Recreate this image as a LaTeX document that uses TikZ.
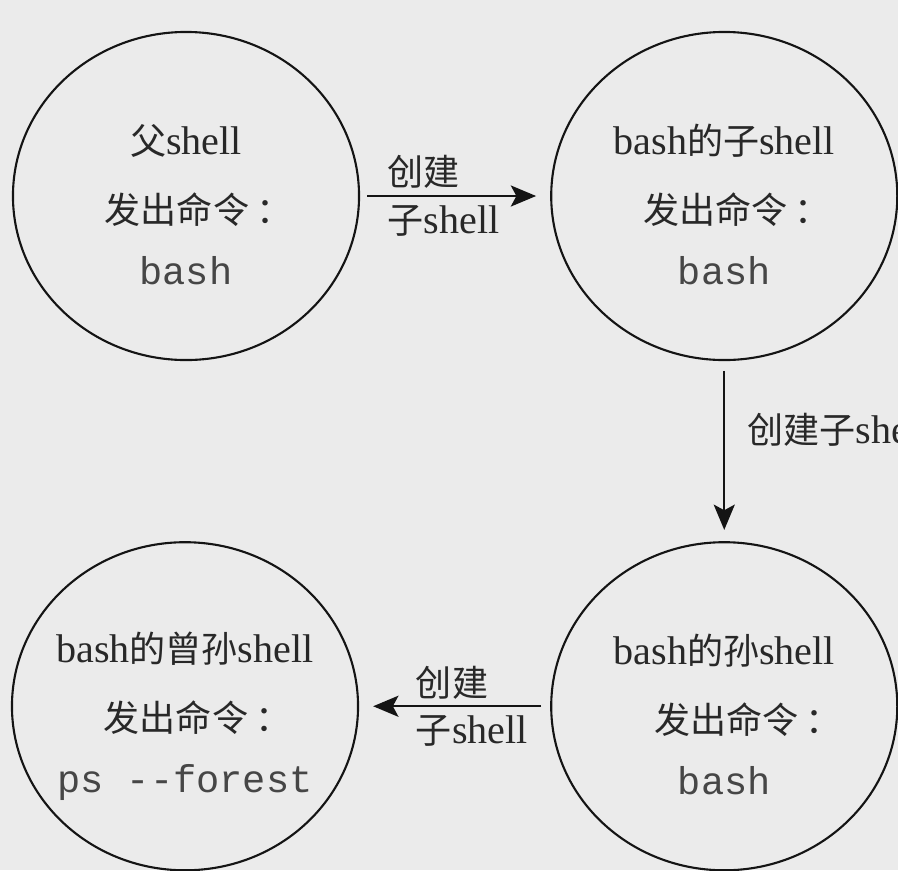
\documentclass[tikz,border=0pt]{standalone}
\usepackage{fontspec}
\setmainfont{Liberation Serif}
\setmonofont{Liberation Mono}[Scale=0.965]
\newfontfamily\cjk{Noto Sans CJK SC}[Scale=0.9]
\usetikzlibrary{shapes.geometric, arrows.meta, positioning}
\definecolor{shbg}{RGB}{235,235,235}
\definecolor{shline}{RGB}{20,20,20}
\definecolor{shtext}{RGB}{40,40,40}
\definecolor{shmono}{RGB}{70,70,70}
\newcommand{\fachu}{{\cjk 发出命令\kern.2em：\kern-.7em}}

\begin{document}
\begin{tikzpicture}[x=0.025cm, y=-0.025cm,
  shellring/.style={ellipse, draw=shline, line width=1.5pt, minimum width=8.65cm, minimum height=8.2cm, inner sep=0pt},
  shelltext/.style={align=center, inner sep=0pt, text=shtext, font=\fontsize{28.5}{43.4}\selectfont},
  shelllabel/.style={align=left, inner sep=0pt, text=shtext, font=\fontsize{28.5}{34}\selectfont},
  arr/.style={-{Stealth[length=18pt, width=15pt, inset=4pt]}, draw=shline, line width=1.5pt}
]
\useasboundingbox[fill=shbg] (0,0) rectangle (898,870);
\clip (0,0) rectangle (898,870);

\node[shellring] (parent) at (186,196) {};
\node[shellring, right=4.75cm of parent] (sub) {};
\node[shellring, below=4.5cm of sub] (grand) {};
\node[shellring, left=4.775cm of grand] (great) {};

\node[shelltext] (parenttxt) at ([yshift=-6pt]parent.center) {{\cjk 父}shell\\[6pt]\fachu\\\textcolor{shmono}{\texttt{bash}}};
\node[shelltext] (subtxt) at ([yshift=-6pt]sub.center) {bash{\cjk 的子}shell\\[6pt]\fachu\\\textcolor{shmono}{\texttt{bash}}};
\node[shelltext] (grandtxt) at ([yshift=-6pt]grand.center) {bash{\cjk 的孙}shell\\[6pt]\hspace*{16pt}\fachu\\\textcolor{shmono}{\texttt{bash}}};
\node[shelltext] (greattxt) at ([yshift=-7pt]great.center) {bash{\cjk 的曾孙}shell\\[6pt]\fachu\\\textcolor{shmono}{\texttt{ps -{}-forest}}};

\draw[arr, shorten <=5pt, shorten >=10pt] (parent) -- node[shelllabel, pos=0.44] (lbltop) {{\cjk 创建}\\{\cjk 子}shell} (sub);
\draw[arr, shorten <=7pt, shorten >=8pt] (sub) -- node[shelllabel, pos=0.38, right=0.55cm] (lblright) {{\cjk 创建子}shell} (grand);
\draw[arr, shorten <=6.5pt, shorten >=10pt] (grand) -- node[shelllabel, pos=0.41] (lblbottom) {{\cjk 创建}\\{\cjk 子}shell} (great);
\end{tikzpicture}
\end{document}
